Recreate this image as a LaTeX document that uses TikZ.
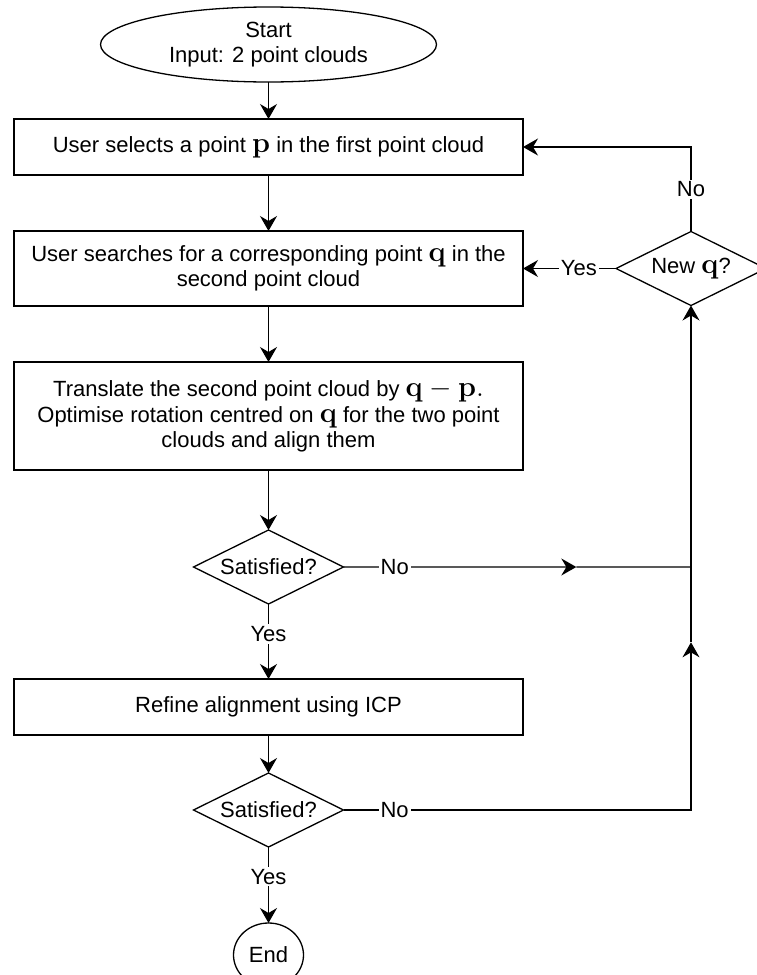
\documentclass[tikz,border=0pt]{standalone}
\usepackage{amsmath,amssymb}
\usepackage[no-math]{fontspec}
\setmainfont{Liberation Sans}
\usetikzlibrary{positioning,arrows.meta,shapes.geometric,calc}
\newcommand{\bvec}[1]{{\fontsize{14.5}{14.5}\selectfont$\mathbf{#1}$}}

\begin{document}
\begin{tikzpicture}[
      x=1pt, y=1pt,
      font=\fontsize{11}{12.75}\selectfont,
      line width=0.65pt,
      box/.style={draw, minimum width=254.5pt, inner sep=2pt, outer sep=0pt, align=center},
      decision/.style={draw, diamond, aspect=2, minimum width=75pt, minimum height=37pt, inner sep=0pt, outer sep=0pt},
      terminal/.style={draw, ellipse, inner sep=0pt, outer sep=0pt, align=center},
      arrow/.style={-{Stealth[length=7.5pt, width=8.5pt, inset=2.5pt]}},
      lbl/.style={fill=white, inner sep=1pt},
    ]
      \useasboundingbox (0,0) rectangle (378,-487.5);
      \node[terminal, minimum width=168pt, minimum height=37.5pt] (start) at (134.25,-22.25) {Start\\Input: 2 point clouds};
      \node[box, minimum height=28pt, below=18.5pt of start] (select) {User selects a point \bvec{p} in the first point cloud};
      \node[box, minimum height=37.5pt, below=28pt of select] (search) {User searches for a corresponding point \bvec{q} in the\\second point cloud};
      \node[box, minimum height=54pt, below=28pt of search] (align) {Translate the second point cloud by \bvec{q - p.}\\Optimise rotation centred on \bvec{q} for the two point\\clouds and align them};
      \node[decision, below=30pt of align] (sat1) {Satisfied?};
      \node[box, minimum height=28pt, below=37.5pt of sat1] (refine) {Refine alignment using ICP};
      \node[decision, below=19pt of refine] (sat2) {Satisfied?};
      \node[terminal, minimum width=35pt, minimum height=32pt, below=38pt of sat2] (finish) {End};
      \node[decision, right=46.5pt of search] (newq) {New \bvec{q}?};

      \draw[arrow] (start) -- (select);
      \draw[arrow] (select) -- (search);
      \draw[arrow] (search) -- (align);
      \draw[arrow] (align) -- (sat1);
      \draw[arrow] (sat1) -- node[lbl, pos=0.4] {Yes} (refine);
      \draw[arrow] (refine) -- (sat2);
      \draw[arrow] (sat2) -- node[lbl, pos=0.39] {Yes} (finish);

      \coordinate (jn1) at (sat1.east -| newq.south);
      \coordinate (jn2) at (sat2.east -| newq.south);
      \coordinate (mid1) at ($(sat1.east)!0.67!(jn1)$);
      \coordinate (tip2) at ($(jn1)!0.31!(jn2)$);
      \draw[arrow] (sat1.east) -- node[lbl, pos=0.22] {No} (mid1);
      \draw (mid1) -- (jn1);
      \draw[arrow] (sat2.east) -- node[lbl, pos=0.147] {No} (jn2) -- (tip2);
      \draw[arrow] (tip2) -- (newq.south);
      \draw[arrow] (newq.north) -- node[lbl] {No} (newq.north |- select.east) -- (select.east);
      \draw[arrow] (newq) -- node[lbl, pos=0.4] {Yes} (search);
    \end{tikzpicture}
\end{document}
